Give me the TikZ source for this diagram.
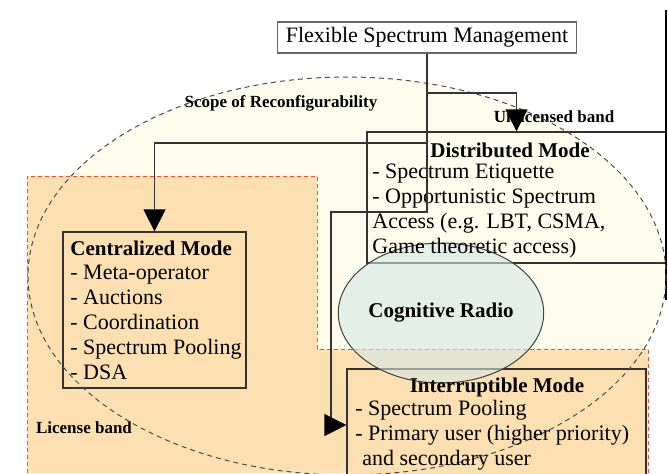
\documentclass[tikz,border=0pt]{standalone}
\usepackage{fontspec}
\setmainfont{Liberation Serif}
\usetikzlibrary{arrows.meta,shapes.geometric}
\definecolor{licorange}{HTML}{FDE0B2}
\definecolor{scopecream}{HTML}{FEFCEC}
\definecolor{bandred}{HTML}{E2553A}
\definecolor{crblue}{HTML}{D4E7E6}
\definecolor{linegrey}{HTML}{333333}
\newcommand{\bandfont}{\fontsize{8.5}{10}\selectfont\bfseries}
\newcommand{\itemfont}{\fontsize{11}{12.5}\selectfont}

\begin{document}
\begin{tikzpicture}[x=0.5pt, y=-0.5pt,
		modebox/.style={draw=linegrey, line width=0.65pt, inner sep=0pt},
		items/.style={inner sep=0pt, align=left, anchor=west, font=\itemfont},
		modetitle/.style={inner sep=0pt, font=\fontsize{10.5}{12}\selectfont\bfseries},
		band/.style={inner sep=0pt, font=\bandfont},
		arr/.style={draw=linegrey, line width=0.65pt, -{Triangle[width=11pt,length=11pt,color=black]}}]
			\useasboundingbox (0,0) rectangle (668,473);
			%
			\fill[scopecream]	(347,276) ellipse [x radius=319, y radius=199];
			\fill[licorange]	(27,473) -- (27,176) -- (317,176) -- (317,349) -- (648,349) -- (648,473) -- cycle;
			\draw[bandred, dash pattern=on 2pt off 1.5pt, line width=0.5pt]
				(27,473) -- (27,176) -- (317,176) -- (317,349) -- (648,349) -- (648,473);
			%
			\node[band] (scope)	at	(281,103)	{Scope of Reconfigurability};
			\node[band] (unl)	at	(554,117)	{Unlicensed band};
			\node[band] (lic)	at	(84,428)	{License band};
			%
			\node[modebox, fill=white, draw=black!60, minimum width=149.5pt, minimum height=15.5pt, font=\itemfont]
				(fsm)	at	(427,37.5)	{Flexible Spectrum Management};
			\node[modebox, fill=licorange, minimum width=91.5pt, minimum height=78pt]	(cent)	at	(154.5,310)	{};
			\node[modebox, minimum width=149.5pt, minimum height=65.5pt]	(dist)	at	(516.5,197.5)	{};
			\node[modebox, fill=licorange, minimum width=149.5pt, minimum height=56pt]	(inter)	at	(496.5,425)	{};
			\draw[line width=1pt]	(666,10) -- (666,300);
			%
			\draw[black!70, dash pattern=on 2.5pt off 2pt, line width=0.5pt]	(347,276) ellipse [x radius=319, y radius=199];
			\node[ellipse, draw=black!75, line width=0.5pt, fill=crblue, fill opacity=0.6, text opacity=1,
				minimum width=102pt, minimum height=70pt, inner sep=0pt, font=\fontsize{10.5}{12}\selectfont\bfseries]
				(cr)	at	(441,313)	{Cognitive Radio};
			%
			\node[modetitle, anchor=west] (centt)	at	(70,248)	{Centralized Mode};
			\node[items] (centi)	at	(70,322.5)	{- Meta-operator\\- Auctions\\- Coordination\\- Spectrum Pooling\\- DSA};
			\node[modetitle] (distt)	at	(510,150)	{Distributed Mode};
			\node[items] (disti)	at	(372,211)	{- Spectrum Etiquette\\- Opportunistic Spectrum\\Access (e.g. LBT, CSMA,\\Game theoretic access)};
			\node[modetitle] (intert)	at	(497,387)	{Interruptible Mode};
			\node[items] (interi)	at	(355,435)	{- Spectrum Pooling\\- Primary user (higher priority)\\\hspace*{3.5pt}and secondary user};
			%
			\coordinate (jdist)		at	(427,93);
			\coordinate (jcent)		at	(427,143);
			\coordinate (jinter)	at	(331,212);
			\draw[arr]	(fsm.south) |- (jinter) |- (inter.west);
			\draw[arr]	(jdist) -| (dist.north);
			\draw[arr]	(jcent) -| (cent.north);
		\end{tikzpicture}
\end{document}
